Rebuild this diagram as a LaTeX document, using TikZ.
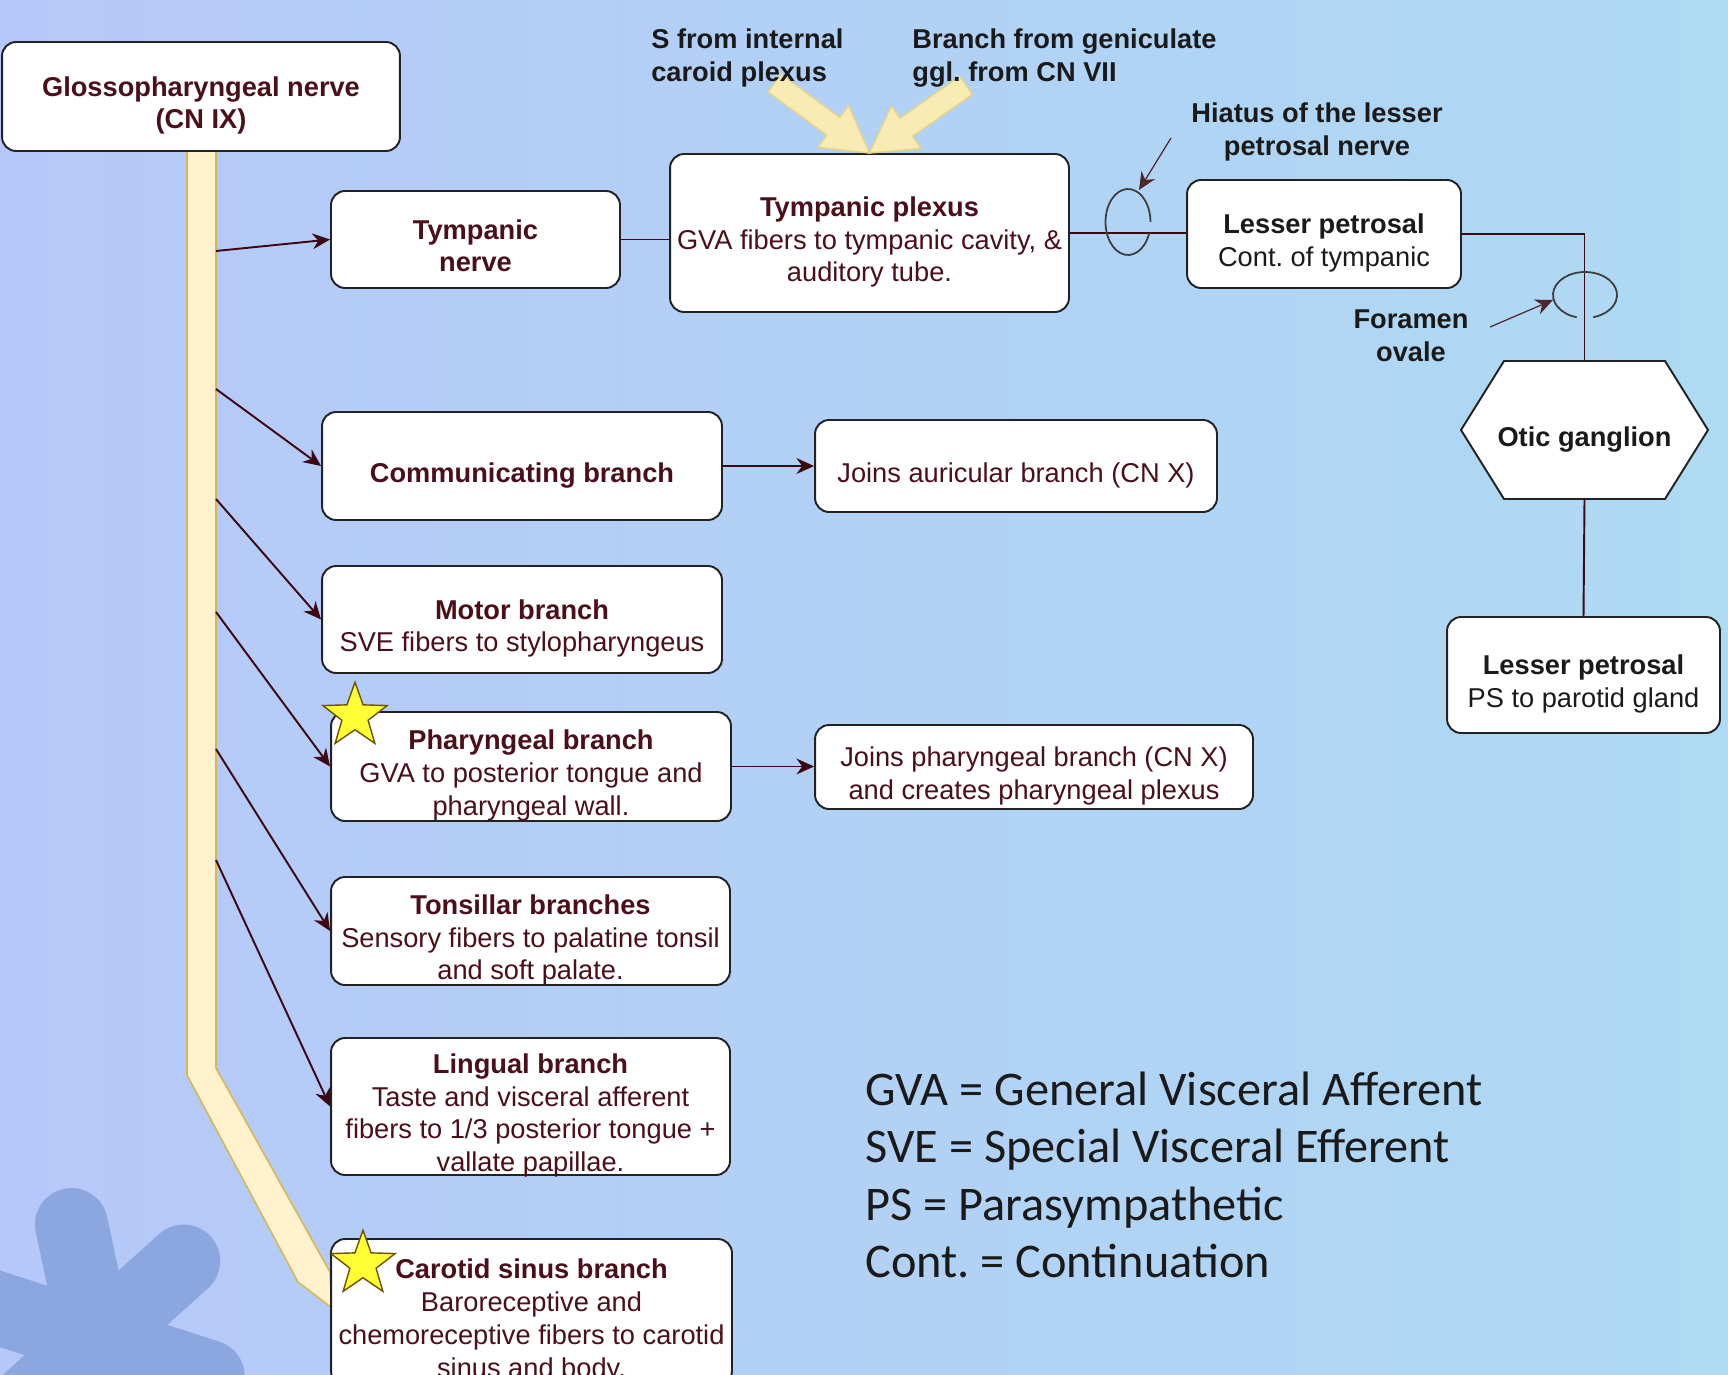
\documentclass[tikz,border=0pt]{standalone}
\usepackage{fontspec}
\setmainfont{Liberation Sans}
\newfontfamily\keyfont{Carlito}
\usetikzlibrary{arrows.meta,shapes.geometric}

\definecolor{nervered}{RGB}{60,8,20}
\definecolor{boxtext}{RGB}{75,15,25}
\definecolor{inktext}{RGB}{26,26,26}
\definecolor{boxline}{RGB}{34,34,34}
\definecolor{trunkfill}{RGB}{255,242,204}
\definecolor{trunkline}{RGB}{214,182,86}
\definecolor{arrowfill}{RGB}{248,236,180}
\definecolor{arrowline}{RGB}{230,212,135}
\definecolor{bgleft}{RGB}{182,200,249}
\definecolor{bgright}{RGB}{174,218,242}
\definecolor{blob}{RGB}{140,166,223}
\definecolor{starfill}{RGB}{255,255,51}
\definecolor{starline}{RGB}{110,80,0}

\newcommand\boxfont{\fontsize{15.5}{18.7}\selectfont}
\newcommand\cell[1]{\smash{\raisebox{-9pt}{\begin{tabular}{@{}c@{}}#1\end{tabular}}}}

\begin{document}
\begin{tikzpicture}[x=0.02cm,y=-0.02cm,
  box/.style={draw=boxline,fill=white,line width=1.1pt,rounded corners=8pt,inner sep=0pt,text=boxtext,font=\boxfont},
  nerve/.style={draw=nervered,line width=1.1pt},
  branch/.style={nerve,-{Stealth[length=10pt,width=9pt]}},
  pointer/.style={draw=nervered!75!gray,line width=0.7pt,-{Stealth[length=10pt,width=9pt]}},
  note/.style={font=\boxfont\bfseries,text=inktext,inner sep=0pt},
  trunk/.style={fill=trunkfill,draw=trunkline,line width=0.9pt},
  bigarrow/.style={fill=arrowfill,draw=arrowline,line width=0.8pt},
  gold star/.style={star,star points=5,star point ratio=2.45,minimum size=1.35cm,inner sep=0pt,fill=starfill,draw=starline,line width=0.8pt},
  loop/.style={draw=inktext!85,line width=1pt},
  key/.style={font=\keyfont\fontsize{27.5}{32.6}\selectfont,align=left,text=inktext,inner sep=0pt},
  fat arrow/.pic={\path[bigarrow] (0,0) -- (-45,26) -- (-45,11) -- (-118,11) -- (-118,-11) -- (-45,-11) -- (-45,-26) -- cycle;}]
\path[use as bounding box] (0,0) rectangle (1728,1375);
\shade[left color=bgleft,right color=bgright] (0,0) rectangle (1728,1375);
% asterisk in the corner
\begin{scope}
\clip (0,0) rectangle (1728,1375);
\foreach \a in {-102,-42,18,78,138,-162}
  \draw[blob,line width=1.46cm,line cap=round] (96,1340) -- ++(\a:118);
\end{scope}
% main trunk of CN IX
\draw[trunk] (187,151) -- (216,151) -- (216,1068) -- (330,1272) -- (332,1308) -- (298,1282) -- (187,1075) -- cycle;

\node[box,minimum width=7.96cm,minimum height=2.18cm] (cn9) at (201,96.5) {\cell{\textbf{Glossopharyngeal nerve}\\\textbf{(CN IX)}}};
\node[box,minimum width=5.78cm,minimum height=1.94cm] (tymp) at (475.5,239.5) {\cell{\textbf{Tympanic}\\\textbf{nerve}}};
\node[box,minimum width=7.98cm,minimum height=3.16cm] (plexus) at (869.5,233) {\cell{\textbf{Tympanic plexus}\\GVA fibers to tympanic cavity, \&\\auditory tube.}};
\node[box,text=inktext,minimum width=5.48cm,minimum height=2.16cm] (lesser) at (1324,234) {\cell{\textbf{Lesser petrosal}\\Cont.\ of tympanic}};
\node[box,text=inktext,minimum width=5.46cm,minimum height=2.32cm] (parotid) at (1583.5,675) {\cell{\textbf{Lesser petrosal}\\PS to parotid gland}};
\node[box,minimum width=8cm,minimum height=2.16cm] (comm) at (522,466) {\cell{\textbf{Communicating branch}}};
\node[box,minimum width=8.04cm,minimum height=1.84cm] (auric) at (1016,466) {\cell{Joins auricular branch (CN X)}};
\node[box,minimum width=8cm,minimum height=2.14cm] (motor) at (522,619.5) {\cell{\textbf{Motor branch}\\SVE fibers to stylopharyngeus}};
\node[box,minimum width=8cm,minimum height=2.18cm] (phar) at (531,766.5) {\cell{\textbf{Pharyngeal branch}\\GVA to posterior tongue and\\pharyngeal wall.}};
\node[box,minimum width=8.76cm,minimum height=1.68cm] (pharjoin) at (1034,767) {\cell{Joins pharyngeal branch (CN X)\\and creates pharyngeal plexus}};
\node[box,minimum width=7.98cm,minimum height=2.16cm] (tons) at (530.5,931) {\cell{\textbf{Tonsillar branches}\\Sensory fibers to palatine tonsil\\and soft palate.}};
\node[box,minimum width=7.98cm,minimum height=2.74cm] (ling) at (530.5,1106.5) {\cell{\textbf{Lingual branch}\\Taste and visceral afferent\\fibers to 1/3 posterior tongue +\\vallate papillae.}};
\node[box,minimum width=8.02cm,minimum height=2.92cm] (carot) at (531.5,1312) {\cell{\textbf{Carotid sinus branch}\\Baroreceptive and\\chemoreceptive fibers to carotid\\sinus and body.}};

% otic ganglion
\draw[draw=boxline,fill=white,line width=1.1pt] (1461,430) -- (1504,361) -- (1665,361) -- (1708,430) -- (1665,499) -- (1504,499) -- cycle;
\node[inner sep=0pt,text=inktext,font=\boxfont\bfseries,minimum width=4.94cm,minimum height=2.76cm] (otic) at (1584.5,430) {\cell{Otic ganglion}};

% branches off the trunk
\coordinate (t1) at (216,251);
\coordinate (t2) at (216,389);
\coordinate (t3) at (216,499);
\coordinate (t4) at (216,612);
\coordinate (t5) at (216,749);
\coordinate (t6) at (216,860);
\draw[branch] (t1) -- (tymp.west);
\draw[branch] (t2) -- (comm.west);
\draw[branch] (t3) -- (motor.west);
\draw[branch] (t4) -- (phar.west);
\draw[branch] (t5) -- (tons.west);
\draw[branch] (t6) -- (ling.west);
\draw[branch] (comm.east) -- (auric.west);
\draw[branch] (phar.east) -- (phar.east -| pharjoin.west);
\draw[nerve] (tymp.east) -- (tymp.east -| plexus.west);
\draw[nerve] (plexus.east) -- (plexus.east -| lesser.west);
\draw[nerve] (lesser.east) -| (otic.north);
\draw[nerve] (otic.south) -- (parotid.north);

% openings in the skull
\draw[loop] (1128,222) ++(20:22.5 and 33) arc[start angle=20,end angle=360,x radius=22.5,y radius=33];
\draw[loop] (1585,295) ++(105:32 and 23) arc[start angle=105,end angle=435,x radius=32,y radius=23];
\node[note,align=center] (hiatus) at (1317,132) {Hiatus of the lesser\\petrosal nerve};
\node[note,align=center] (foramen) at (1411,336) {Foramen\\ovale};
\coordinate (hiatus tail) at (1171,138);
\coordinate (hiatus head) at (1139,190);
\coordinate (foramen tail) at (1490,327);
\coordinate (foramen head) at (1553,300);
\draw[pointer] (hiatus tail) -- (hiatus head);
\draw[pointer] (foramen tail) -- (foramen head);

% inputs to the plexus
\pic[rotate=-36.4] at (plexus.north) {fat arrow};
\pic[rotate=-145] at (plexus.north) {fat arrow};
\node[note,align=left,anchor=west] (sympa) at (651,58) {S from internal\\caroid plexus};
\node[note,align=left,anchor=west] (genic) at (912,58) {Branch from geniculate\\ggl.\ from CN VII};

\node[gold star] (star1) at (355,716) {};
\node[gold star] (star2) at (363,1264) {};

\node[key,anchor=west] (legend) at (865,1175) {GVA = General Visceral Afferent\\SVE = Special Visceral Efferent\\PS = Parasympathetic\\Cont.\ = Continuation};
\end{tikzpicture}
\end{document}
